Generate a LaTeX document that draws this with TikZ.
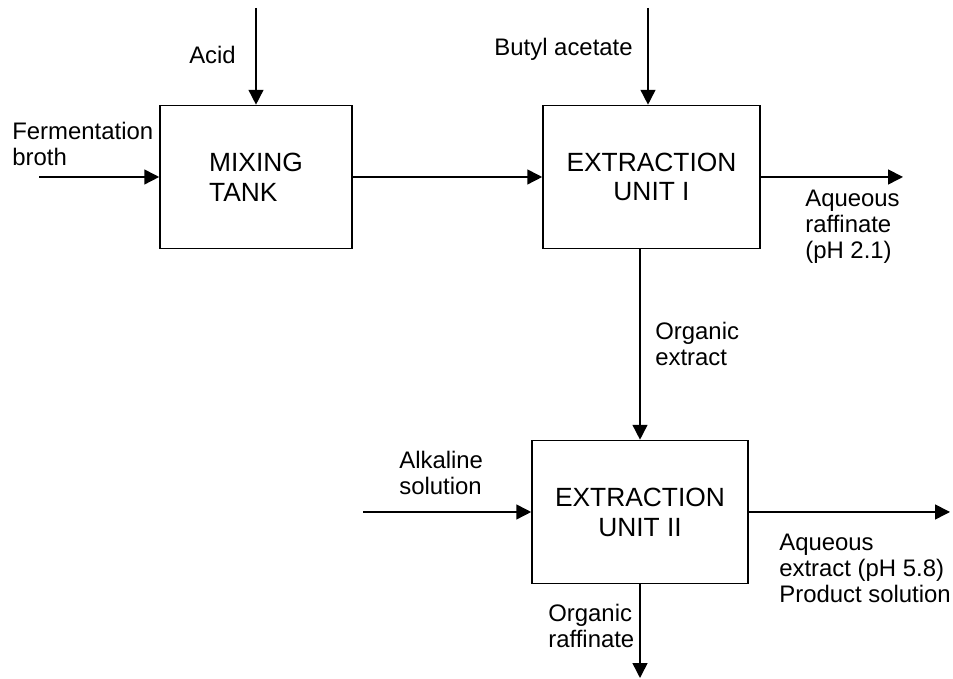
\documentclass[tikz,border=0pt]{standalone}
\usepackage{fontspec}
\setmainfont{Liberation Sans}
\usepackage{tikz}
\usetikzlibrary{arrows.meta,positioning,calc}

\begin{document}
\begin{tikzpicture}[
    unit/.style={draw,line width=0.9pt,minimum width=#1,minimum height=2.86cm,
                 inner sep=0pt,font=\fontsize{15}{17}\selectfont},
    flow/.style={line width=0.9pt,-{Triangle[length=8.5pt,width=8.5pt]}},
    lbl/.style={inner sep=0pt,align=left,font=\fontsize{13.6}{14.8}\selectfont}]
  \useasboundingbox (0,0) rectangle (19.06,13.58);
  % Units
  \node[unit=3.84cm,align=left] (mix) at (5.12,10.04) {MIXING\\TANK};
  \node[unit=4.34cm,align=center] (extI) at (13.03,10.04) {EXTRACTION\\UNIT I};
  \node[unit=4.32cm,align=center] (extII) at (12.8,3.34) {EXTRACTION\\UNIT II};
  % Free ends of the streams
  \coordinate (acidin) at (5.12,13.42);
  \coordinate (butylin) at (12.96,13.42);
  \coordinate (brothin) at (0.78,10.04);
  \coordinate (raffout) at (18.06,10.04);
  \coordinate (alkin) at (7.26,3.34);
  \coordinate (prodout) at (19.0,3.34);
  \coordinate (orgout) at (12.8,0.02);
  % Streams
  \draw[flow] (acidin) -- (mix.north);
  \draw[flow] (butylin) -- (butylin |- extI.north);
  \draw[flow] (brothin) -- (mix.west);
  \draw[flow] (mix.east) -- (extI.west);
  \draw[flow] (extI.east) -- (raffout);
  \draw[flow] (extI.south -| extII.north) -- (extII.north);
  \draw[flow] (alkin) -- (extII.west);
  \draw[flow] (extII.east) -- (prodout);
  \draw[flow] (extII.south) -- (orgout);
  % Labels
  \node[lbl] (acid) at (4.25,12.48) {Acid};
  \node[lbl,anchor=east] (butyl) at (12.66,12.6) {Butyl acetate};
  \node[lbl,anchor=west] (broth) at (0.24,10.71) {Fermentation\\broth};
  \node[lbl,anchor=west] (aqraff) at (16.1,9.04) {Aqueous\\raffinate\\(pH 2.1)};
  \node[lbl,anchor=west] (orgext) at (13.1,6.7) {Organic\\extract};
  \node[lbl,anchor=west] (alk) at (7.98,4.12) {Alkaline\\solution};
  \node[lbl,anchor=west] (prod) at (15.58,2.22) {Aqueous\\extract (pH 5.8)\\Product solution};
  \node[lbl,anchor=west] (orgraff) at (10.96,1.06) {Organic\\raffinate};
\end{tikzpicture}
\end{document}
